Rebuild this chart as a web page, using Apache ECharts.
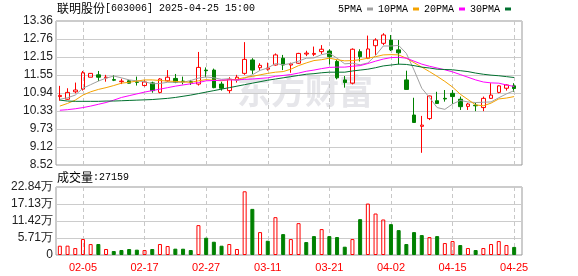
<!DOCTYPE html>
<html><head><meta charset="utf-8">
<script src="https://cdn.jsdelivr.net/npm/echarts@6/dist/echarts.min.js"></script>
<style>html,body{margin:0;padding:0;background:#fff}#c{width:578px;height:276px}</style>
</head><body><div id="c"></div>
<script>
const dates = ['01-23','01-24','01-27','02-05','02-06','02-07','02-10','02-11','02-12','02-13',
  '02-14','02-17','02-18','02-19','02-20','02-21','02-24','02-25','02-26','02-27',
  '02-28','03-03','03-04','03-05','03-06','03-07','03-10','03-11','03-12','03-13',
  '03-14','03-17','03-18','03-19','03-20','03-21','03-24','03-25','03-26','03-27',
  '03-28','03-31','04-01','04-02','04-03','04-07','04-08','04-09','04-10','04-11',
  '04-14','04-15','04-16','04-17','04-18','04-21','04-22','04-23','04-24','04-25'];
// [open, close, low, high]
const ohlc = [
  [10.82,10.86,10.68,11.18],[10.73,10.96,10.71,11.10],[10.98,11.04,10.93,11.29],[11.07,11.62,11.02,11.68],
  [11.47,11.60,11.47,11.61],[11.55,11.47,11.34,11.68],[11.45,11.47,11.32,11.55],[11.39,11.37,11.34,11.54],
  [11.32,11.34,11.24,11.42],[11.35,11.27,11.26,11.38],[11.31,11.30,11.19,11.49],[11.19,11.31,11.16,11.37],
  [11.28,11.02,10.95,11.32],[10.96,11.41,10.93,11.44],[11.35,11.47,11.32,11.71],[11.43,11.30,11.27,11.58],
  [11.34,11.32,11.23,11.49],[11.32,11.30,11.21,11.38],[11.24,11.80,11.19,12.32],[11.71,11.69,11.47,11.80],
  [11.71,11.12,11.10,11.76],[11.24,11.10,11.02,11.32],[11.02,11.40,10.93,11.47],[11.38,11.47,11.29,11.55],
  [11.60,12.07,11.55,12.65],[12.05,11.71,11.58,12.11],[11.79,11.87,11.69,11.94],[11.74,11.78,11.69,11.96],
  [11.88,12.22,11.86,12.27],[12.11,11.88,11.71,12.22],[11.88,11.92,11.62,11.96],[11.94,12.27,11.92,12.29],
  [12.25,12.28,12.18,12.36],[12.24,12.27,12.18,12.50],[12.33,12.41,12.25,12.55],[12.35,12.16,11.90,12.41],
  [12.00,11.45,11.40,12.05],[11.38,11.29,11.12,11.51],[11.27,12.41,11.23,12.44],[12.33,12.16,12.00,12.41],
  [12.11,12.42,12.08,12.87],[12.53,12.72,12.22,12.78],[12.61,12.89,12.55,12.95],[12.72,12.39,12.35,12.89],
  [12.39,12.29,11.90,12.72],[11.38,11.06,11.06,11.69],[10.20,9.95,9.95,10.78],[9.82,9.86,8.93,10.17],
  [10.08,10.84,10.03,10.85],[10.68,10.59,10.57,10.98],[10.76,10.74,10.65,11.04],[10.93,10.82,10.57,11.04],
  [10.73,10.48,10.37,10.82],[10.49,10.57,10.37,10.61],[10.53,10.51,10.33,10.61],[10.45,10.76,10.33,10.82],
  [10.76,10.87,10.74,11.27],[10.96,11.18,10.93,11.20],[11.10,11.21,11.02,11.23],[11.18,11.09,10.98,11.27]];
const ma5 = [10.73,10.78,10.87,11.10,11.22,11.34,11.44,11.51,11.45,11.38,
  11.35,11.32,11.25,11.26,11.30,11.30,11.30,11.36,11.44,11.48,
  11.45,11.40,11.42,11.36,11.43,11.55,11.70,11.78,11.93,11.89,
  11.93,12.01,12.11,12.12,12.23,12.28,12.11,11.92,11.94,11.89,
  11.95,12.20,12.52,12.52,12.54,12.27,11.71,11.10,10.79,10.45,
  10.39,10.57,10.69,10.64,10.62,10.63,10.64,10.78,10.91,11.02];
const ma10 = [10.50,10.59,10.70,10.87,10.98,11.06,11.12,11.19,11.27,11.30,
  11.34,11.38,11.38,11.36,11.34,11.33,11.31,11.30,11.35,11.39,
  11.37,11.35,11.39,11.40,11.46,11.50,11.55,11.60,11.64,11.66,
  11.74,11.86,11.95,12.03,12.06,12.11,12.06,12.02,12.03,12.06,
  12.11,12.16,12.22,12.23,12.22,12.11,11.96,11.81,11.66,11.50,
  11.33,11.14,10.90,10.72,10.54,10.51,10.60,10.74,10.77,10.82];
const ma20 = [10.36,10.38,10.41,10.45,10.50,10.56,10.62,10.70,10.79,10.85,
  10.91,10.97,11.02,11.07,11.12,11.17,11.21,11.25,11.29,11.35,
  11.36,11.37,11.38,11.38,11.40,11.41,11.43,11.45,11.50,11.53,
  11.56,11.61,11.67,11.71,11.76,11.80,11.81,11.81,11.84,11.86,
  11.93,12.01,12.08,12.13,12.14,12.11,12.01,11.91,11.84,11.78,
  11.72,11.65,11.56,11.47,11.38,11.31,11.28,11.27,11.21,11.16];
const ma30 = [10.70,10.67,10.66,10.66,10.66,10.66,10.67,10.67,10.68,10.69,
  10.70,10.71,10.72,10.74,10.76,10.79,10.83,10.87,10.92,10.97,
  11.02,11.07,11.12,11.17,11.22,11.27,11.32,11.37,11.41,11.45,
  11.49,11.53,11.57,11.59,11.62,11.64,11.64,11.64,11.68,11.71,
  11.74,11.79,11.85,11.88,11.91,11.90,11.86,11.81,11.78,11.74,
  11.73,11.72,11.69,11.66,11.61,11.57,11.54,11.52,11.49,11.46];
const volumes = [31200,31400,23300,53600,36700,36900,20200,13300,16800,20000,
  17900,16600,20100,36800,30100,21300,21100,16700,100300,58000,
  44600,31200,36800,20100,214000,154900,76900,47900,127100,70200,
  53500,107000,43500,63500,87000,63500,60200,27900,53500,120400,
  172800,139300,119300,103700,83600,36800,76900,66900,60200,63500,
  40100,46800,33400,23400,16700,23400,36800,46800,33400,27159];
// 1 = red (hollow) volume bar, 0 = green (filled)
const volUp = [1,1,1,1,1,0,1,0,0,0, 0,1,0,1,1,0,0,0,1,0, 0,0,1,1,1,0,1,0,1,0,
  1,1,0,0,1,0,0,0,1,0, 1,1,1,0,0,0,0,0,1,0, 1,1,0,1,0,1,1,1,1,0];
const yTicks = ['8.52','9.12','9.73','10.33','10.94','11.55','12.15','12.76','13.36'];
const yMin = 8.52, yMax = 13.36, yStep = 0.605;
const vMax = 228400, vStep = 57100;

const tickFn = (i) => (i - 3) % 8 === 0;
const gridLine = '#cccccc';
const dashed = {show: true, interval: tickFn, lineStyle: {color: '#c8c8c8', type: [4, 3], width: 1}};
const up = '#ff0000', down = '#008000';

const chart = echarts.init(document.getElementById('c'), null, {renderer: 'canvas'});
chart.setOption({
  animation: false,
  backgroundColor: '#ffffff',
  legend: {
    left: 338, top: 3, padding: 0, align: 'right', icon: 'rect',
    itemWidth: 6, itemHeight: 3, itemGap: 5,
    textStyle: {fontFamily: 'Liberation Mono', fontSize: 10, color: '#000', lineHeight: 12},
    data: ['5PMA', '10PMA', '20PMA', '30PMA']
  },
  graphic: [
    {type: 'text', x: 237, y: 74, z: -10, silent: true,
      style: {text: '东方财富', font: 'bold 34px "Noto Sans CJK SC"', fill: '#e6e6ea'}},
    {type: 'text', x: 57, y: 8, style: {
      text: '{a|联明股份}{b|[603006] 2025-04-25 15:00}', verticalAlign: 'middle',
      rich: {a: {fontFamily: 'Noto Sans CJK SC', fontSize: 12, fill: '#000'},
             b: {fontFamily: 'Liberation Mono', fontSize: 10, fill: '#000'}}}},
    {type: 'text', x: 57, y: 177, style: {
      text: '{a|成交量}{b|:' + volumes[volumes.length - 1] + '}', verticalAlign: 'middle',
      rich: {a: {fontFamily: 'Noto Sans CJK SC', fontSize: 12, fill: '#000'},
             b: {fontFamily: 'Liberation Mono', fontSize: 10, fill: '#000'}}}}
  ],
  grid: [
    {left: 56, top: 21, width: 466, height: 144, show: true, borderColor: '#999', borderWidth: 1},
    {left: 59.85, top: 21, width: 454.3, height: 144},
    {left: 56, top: 187, width: 466, height: 68, show: true, borderColor: '#999', borderWidth: 1},
    {left: 59.85, top: 187, width: 454.3, height: 68}
  ],
  xAxis: [
    {gridIndex: 0, type: 'value', show: false, min: 0, max: 1},
    {gridIndex: 1, type: 'category', data: dates, boundaryGap: false,
      axisLine: {show: false}, axisTick: {show: false}, axisLabel: {show: false}, splitLine: dashed},
    {gridIndex: 2, type: 'value', show: false, min: 0, max: 1},
    {gridIndex: 3, type: 'category', data: dates, boundaryGap: false,
      axisLine: {show: false}, axisTick: {show: false},
      axisLabel: {interval: tickFn, color: '#ff0000', fontSize: 11, fontFamily: 'Liberation Sans', margin: 7},
      splitLine: dashed}
  ],
  yAxis: [
    {gridIndex: 0, type: 'value', min: yMin, max: yMax, interval: yStep,
      axisLine: {show: false}, axisTick: {show: false},
      axisLabel: {formatter: v => yTicks[Math.round((v - yMin) / yStep)], color: '#222',
        fontSize: 12, fontFamily: 'Liberation Sans', margin: 3},
      splitLine: {lineStyle: {color: gridLine}}},
    {gridIndex: 1, type: 'value', min: yMin, max: yMax, show: false},
    {gridIndex: 2, type: 'value', min: 0, max: vMax, interval: vStep,
      axisLine: {show: false}, axisTick: {show: false},
      axisLabel: {formatter: v => v === 0 ? '0' : (v / 10000).toFixed(2) + '万', color: '#222',
        fontSize: 12, fontFamily: 'Liberation Sans', margin: 3},
      splitLine: {lineStyle: {color: gridLine}}},
    {gridIndex: 3, type: 'value', min: 0, max: vMax, show: false}
  ],
  series: [
    {type: 'candlestick', xAxisIndex: 1, yAxisIndex: 1, barWidth: 4, clip: false,
      data: ohlc,
      itemStyle: {color: 'rgba(0,0,0,0)', color0: down, borderColor: up, borderColor0: down, borderWidth: 1}},
    {name: '5PMA', type: 'line', xAxisIndex: 1, yAxisIndex: 1, data: ma5, symbol: 'none',
      color: '#a0a0a0', lineStyle: {width: 1, color: '#a0a0a0'}},
    {name: '10PMA', type: 'line', xAxisIndex: 1, yAxisIndex: 1, data: ma10, symbol: 'none',
      color: '#f4a300', lineStyle: {width: 1, color: '#f4a300'}},
    {name: '20PMA', type: 'line', xAxisIndex: 1, yAxisIndex: 1, data: ma20, symbol: 'none',
      color: '#ff00ff', lineStyle: {width: 1, color: '#ff00ff'}},
    {name: '30PMA', type: 'line', xAxisIndex: 1, yAxisIndex: 1, data: ma30, symbol: 'none',
      color: '#00702f', lineStyle: {width: 1, color: '#00702f'}},
    {type: 'bar', xAxisIndex: 3, yAxisIndex: 3, barWidth: 4, clip: false,
      data: volumes.map((v, i) => ({value: v, itemStyle: volUp[i]
        ? {color: 'rgba(0,0,0,0)', borderColor: up, borderWidth: 1}
        : {color: down, borderColor: down, borderWidth: 1}}))}
  ]
});
</script></body></html>
